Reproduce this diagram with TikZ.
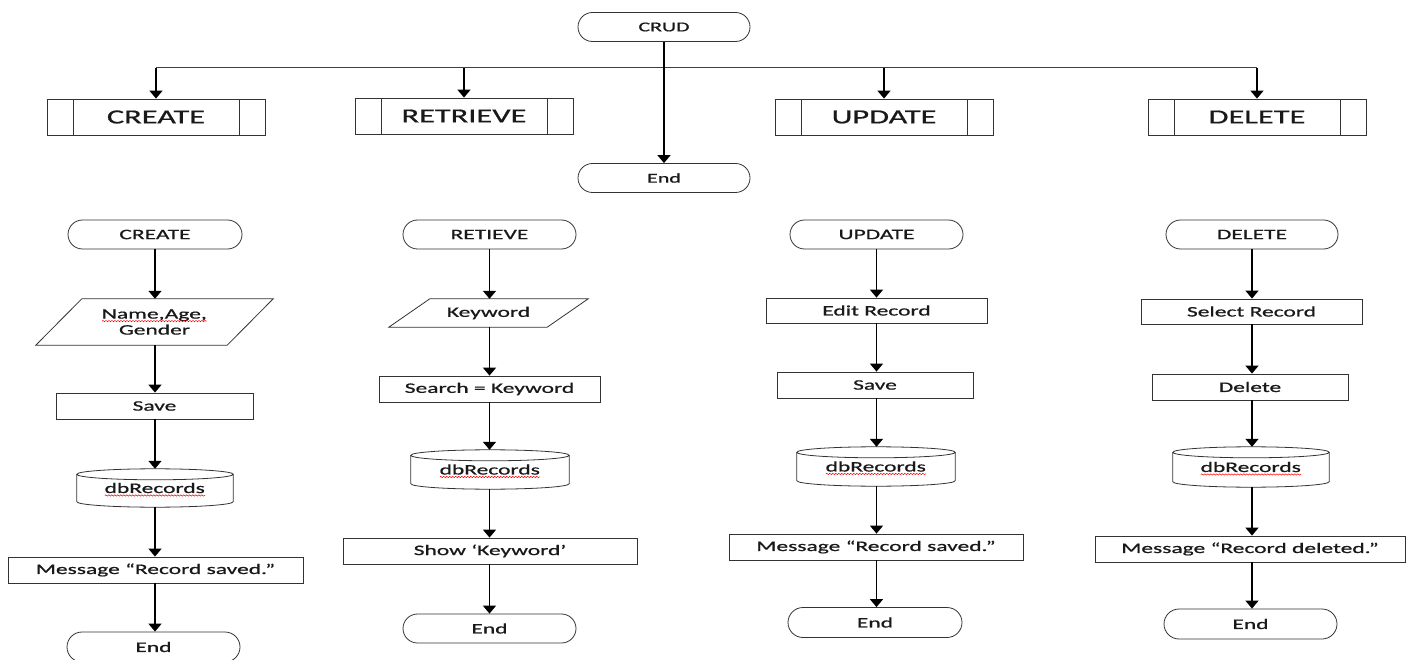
\documentclass[tikz,border=0pt]{standalone}
\usepackage{fontspec}
\setmainfont{Carlito}[FakeStretch=1.62, FakeBold=0.8]
\usetikzlibrary{arrows.meta,calc,decorations.pathmorphing}

% red wavy underline (spell-check style)
\newcommand\redwave[1]{\leavevmode\setbox0\hbox{#1}\rlap{\copy0}%
  \smash{\tikz[baseline=0pt, x=1pt, y=1pt]\draw[red, line width=0.5pt, decorate,
    decoration={snake, amplitude=0.7pt, segment length=3pt}]
    (0pt,-2.5pt) -- (\the\wd0,-2.5pt);}}

\tikzset{
  outline/.style={draw=black!80, line width=0.8pt},
  txt/.style={font=\fontsize{14.5}{16}\selectfont, text=black!90, align=center, inner sep=0pt},
  term/.style={outline, txt, rounded corners=14.5pt, minimum height=29pt},
  proc/.style={outline, txt, minimum height=26pt},
  ghost/.style={txt, draw=none},
  subproc/.style={outline, font=\fontsize{20}{24}\selectfont, text=black!90, inner sep=0pt,
    minimum height=36pt, minimum width=218pt,
    path picture={\draw[black!80, line width=0.8pt]
      ([xshift=26pt]path picture bounding box.north west) -- ([xshift=26pt]path picture bounding box.south west)
      ([xshift=-26pt]path picture bounding box.north east) -- ([xshift=-26pt]path picture bounding box.south east);}},
  arr/.style={draw=black, line width=1.6pt, -{Triangle[width=13pt,length=8pt]}},
  busline/.style={draw=black!75, line width=1pt},
}

% database cylinder drawn round a named box
\newcommand\dbshape[1]{%
  \draw[outline] let \p1=(#1.north west), \p2=(#1.south east), \n1={(\x2-\x1)/2} in
    (\x1,\y1-5.5pt) -- (\x1,\y2+5.5pt)
    arc[start angle=180, end angle=360, x radius=\n1, y radius=5.5pt]
    -- (\x2,\y1-5.5pt)
    (\x1+\n1,\y1-5.5pt) ellipse[x radius=\n1, y radius=5.5pt];}

% input parallelogram drawn round a named box, #2 = horizontal slant
\newcommand\slantbox[2]{%
  \draw[outline] ([xshift=#2pt]#1.north west) -- (#1.north east)
    -- ([xshift=-#2pt]#1.south east) -- (#1.south west) -- cycle;}

\begin{document}
\begin{tikzpicture}[x=1pt, y=-1pt]
\fill[white] (0,0) rectangle (1411,660);
\useasboundingbox (0,0) rectangle (1411,660);

% ---------- overview ----------
\node[term, minimum width=172pt, font=\fontsize{13.5}{15}\selectfont] (crud) at (664,27) {CRUD};
\node[term, minimum width=172pt, font=\fontsize{13.5}{15}\selectfont] (endtop) at (664,178) {End};

\node[subproc] (pcreate)   at (156,117)  {CREATE};
\node[subproc] (pretrieve) at (464,116)  {RETRIEVE};
\node[subproc] (pupdate)   at (884,117)  {UPDATE};
\node[subproc] (pdelete)   at (1257,117) {DELETE};

\coordinate (busL) at (156,68);
\coordinate (busR) at (1257,68);
\draw[busline] (busL) -- (busR);
\draw[arr] (busL) -- (pcreate.north);
\draw[arr] (pretrieve.north |- busL) -- (pretrieve.north);
\draw[arr] (pupdate.north |- busL) -- (pupdate.north);
\draw[arr] (busR) -- (pdelete.north);
\draw[arr] (crud.south) -- (endtop.north);

% ---------- create ----------
\node[term, minimum width=174pt] (t1) at (155,234.5) {CREATE};
\node[ghost, minimum width=237pt, minimum height=46pt] (in1) at (154.5,322) {\redwave{Name,Age,}\\Gender};
\slantbox{in1}{46}
\node[proc, minimum width=197pt] (s1) at (154.5,406) {Save};
\node[ghost, minimum width=156pt, minimum height=38pt] (db1) at (155,488) {\raisebox{-4pt}{\redwave{dbRecords}}};
\dbshape{db1}
\node[proc, minimum width=295pt] (m1) at (155.5,570) {Message “Record saved.”};
\node[term, minimum width=173pt, minimum height=30pt, rounded corners=15pt] (e1) at (153.5,647) {End};

\draw[arr] (t1.south) -- (t1.south |- in1.north);
\draw[arr] (t1.south |- in1.south) -- (t1.south |- s1.north);
\draw[arr] (t1.south |- s1.south) -- (t1.south |- db1.north);
\draw[arr] (t1.south |- db1.south) -- (t1.south |- m1.north);
\draw[arr] (t1.south |- m1.south) -- (t1.south |- e1.north);

% ---------- retrieve ----------
\node[term, minimum width=173pt] (t2) at (489.5,234.5) {RETIEVE};
\node[ghost, minimum width=199pt, minimum height=28pt] (in2) at (488.5,313) {Keyword};
\slantbox{in2}{41}
\node[proc, minimum width=221pt] (s2) at (489.5,389) {Search = Keyword};
\node[ghost, minimum width=158pt, minimum height=39pt] (db2) at (490,469.5) {\raisebox{-4pt}{\redwave{dbRecords}}};
\dbshape{db2}
\node[proc, minimum width=294pt] (m2) at (490,551) {Show ‘Keyword’};
\node[term, minimum width=173pt] (e2) at (489.5,628.5) {End};

\draw[arr] (t2.south) -- (t2.south |- in2.north);
\draw[arr] (t2.south |- in2.south) -- (t2.south |- s2.north);
\draw[arr] (t2.south |- s2.south) -- (t2.south |- db2.north);
\draw[arr] (t2.south |- db2.south) -- (t2.south |- m2.north);
\draw[arr] (t2.south |- m2.south) -- (t2.south |- e2.north);

% ---------- update ----------
\node[term, minimum width=173pt] (t3) at (876.5,234.5) {UPDATE};
\node[proc, minimum width=221pt, minimum height=25pt] (s3a) at (876.5,310.5) {Edit Record};
\node[proc, minimum width=196pt] (s3b) at (875,385) {Save};
\node[ghost, minimum width=158pt, minimum height=39pt] (db3) at (876,466.5) {\raisebox{-4pt}{\redwave{dbRecords}}};
\dbshape{db3}
\node[proc, minimum width=294pt] (m3) at (876,547) {Message “Record saved.”};
\node[term, minimum width=174pt, minimum height=30pt, rounded corners=15pt] (e3) at (875,622.5) {End};

\draw[arr] (t3.south) -- (t3.south |- s3a.north);
\draw[arr] (t3.south |- s3a.south) -- (t3.south |- s3b.north);
\draw[arr] (t3.south |- s3b.south) -- (t3.south |- db3.north);
\draw[arr] (t3.south |- db3.south) -- (t3.south |- m3.north);
\draw[arr] (t3.south |- m3.south) -- (t3.south |- e3.north);

% ---------- delete ----------
\node[term, minimum width=172pt] (t4) at (1252,234.5) {DELETE};
\node[proc, minimum width=221pt, minimum height=25pt] (s4a) at (1251.5,311.5) {Select Record};
\node[proc, minimum width=196pt] (s4b) at (1250,387) {Delete};
\node[ghost, minimum width=156pt, minimum height=40pt] (db4) at (1251,467) {\raisebox{-4pt}{\redwave{dbRecords}}};
\dbshape{db4}
\node[proc, minimum width=310pt] (m4) at (1250,549) {Message “Record deleted.”};
\node[term, minimum width=173pt, minimum height=30pt, rounded corners=15pt] (e4) at (1250.5,624) {End};

\draw[arr] (t4.south) -- (t4.south |- s4a.north);
\draw[arr] (t4.south |- s4a.south) -- (t4.south |- s4b.north);
\draw[arr] (t4.south |- s4b.south) -- (t4.south |- db4.north);
\draw[arr] (t4.south |- db4.south) -- (t4.south |- m4.north);
\draw[arr] (t4.south |- m4.south) -- (t4.south |- e4.north);
\end{tikzpicture}
\end{document}
